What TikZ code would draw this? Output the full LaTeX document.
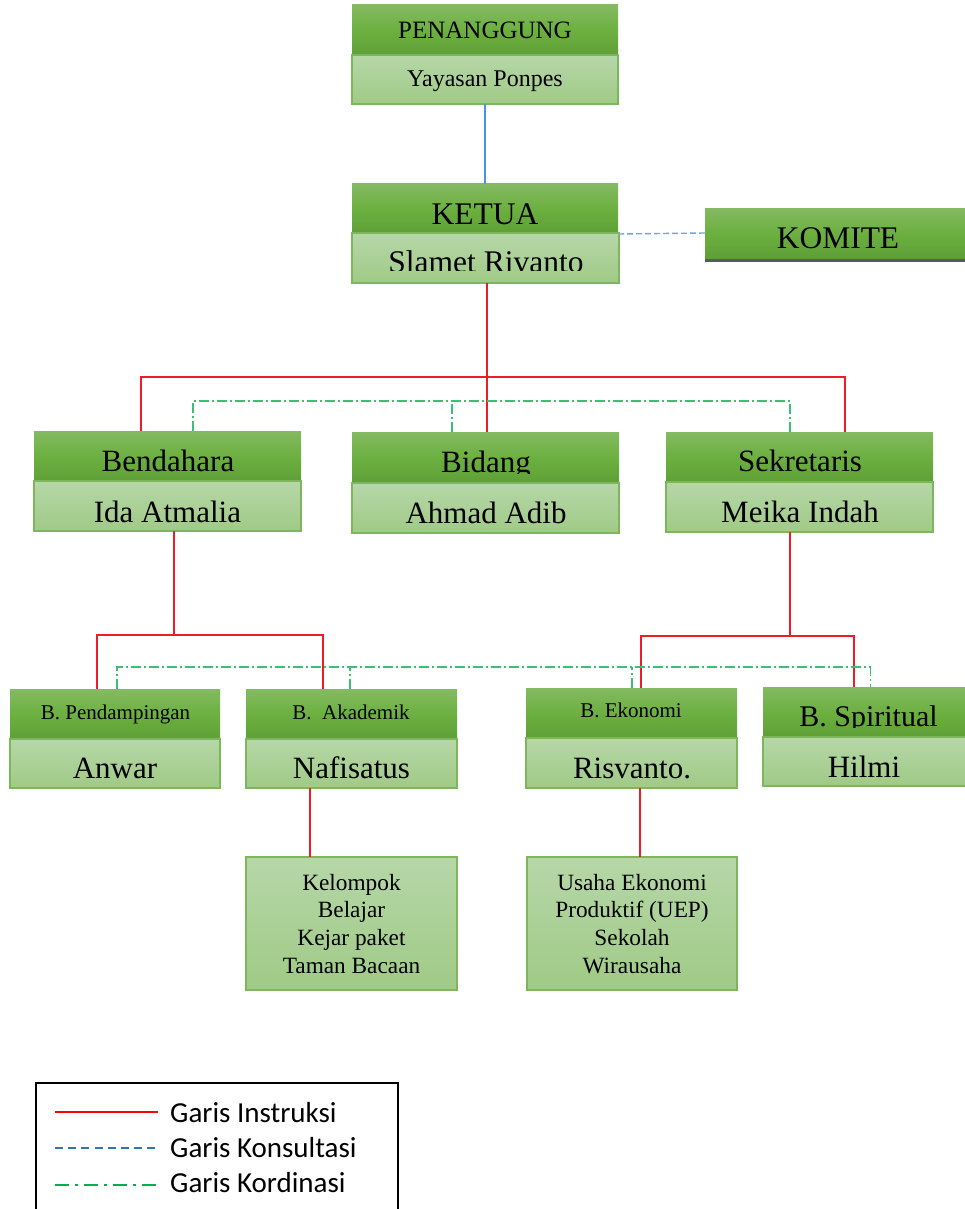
\documentclass[tikz,border=0pt]{standalone}
\usepackage{fontspec}
\setmainfont{Liberation Serif}
\newfontfamily\legfont{Carlito}
\definecolor{dkTop}{HTML}{84BA62}
\definecolor{dkMid}{HTML}{6CB040}
\definecolor{dkBot}{HTML}{5E9F36}
\definecolor{ltTop}{HTML}{B6D7A8}
\definecolor{ltBot}{HTML}{A0CA86}
\definecolor{ltBorder}{HTML}{7DB65B}
\definecolor{insRed}{HTML}{EE1C25}
\definecolor{konBlue}{HTML}{6FA6E0}
\definecolor{konLine}{HTML}{4A94DE}
\definecolor{korGreen}{HTML}{3DBE74}
\definecolor{legRed}{HTML}{FF0000}
\definecolor{legBlue}{HTML}{2E75B6}
\definecolor{legGreen}{HTML}{00B050}
\definecolor{shadowGray}{HTML}{5A5A5A}
\newcommand\mybox[6]{\node[#2, minimum width={#5-#3}, minimum height={#6-#4}] (#1) at ({(#3+#5)/2},{(#4+#6)/2}) {};}
\begin{document}
\begin{tikzpicture}[x=1pt,y=-1pt,
  dk/.style={rectangle, inner sep=0pt, outer sep=0pt, top color=dkTop, bottom color=dkBot, middle color=dkMid, draw=none},
  lt/.style={rectangle, inner sep=0pt, outer sep=0pt, top color=ltTop, bottom color=ltBot, draw=ltBorder, line width=1.2pt},
  txt/.style={anchor=base, inner sep=0pt, outer sep=0pt, font=\fontsize{31}{36}\selectfont},
  small/.style={anchor=base, inner sep=0pt, outer sep=0pt, font=\fontsize{21}{25}\selectfont},
  ins/.style={draw=insRed, line width=1.3pt},
  kon/.style={draw=konBlue, line width=1.4pt, dash pattern=on 6pt off 3pt},
  konsolid/.style={draw=konLine, line width=1.2pt},
  kor/.style={draw=korGreen, line width=1.2pt, dash pattern=on 10pt off 3pt on 2pt off 3pt},
  legtxt/.style={anchor=base west, inner sep=0pt, font=\legfont\fontsize{29}{34}\selectfont}]
\clip (0,0) rectangle (965,1209);
\fill[white] (0,0) rectangle (965,1209);

% ---------- boxes ----------
\mybox{penT}{dk}{352}{5}{618}{56}
\mybox{penB}{lt}{352}{55}{618}{104}
\mybox{ketT}{dk}{352}{184}{618}{234}
\mybox{ketB}{lt}{352}{233}{619}{283}
\fill[shadowGray] (705,256) rectangle (970,262);
\mybox{komite}{dk}{705}{208}{970}{258}
\mybox{bendT}{dk}{34}{431}{301}{482}
\mybox{bendB}{lt}{34}{481}{301}{531}
\mybox{bidT}{dk}{352}{432}{619}{484}
\mybox{bidB}{lt}{352}{483}{619}{533}
\mybox{sekT}{dk}{666}{432}{933}{483}
\mybox{sekB}{lt}{666}{482}{933}{532}
\mybox{pendT}{dk}{10}{689}{220}{740}
\mybox{pendB}{lt}{10}{739}{220}{788}
\mybox{akaT}{dk}{246}{689}{457}{740}
\mybox{akaB}{lt}{246}{739}{457}{788}
\mybox{ekoT}{dk}{526}{688}{737}{739}
\mybox{ekoB}{lt}{526}{738}{737}{788}
\mybox{spirT}{dk}{763}{687}{968}{738}
\mybox{spirB}{lt}{763}{737}{966}{786}
\mybox{kel}{lt}{246}{857}{457}{990}
\mybox{usa}{lt}{527}{857}{737}{990}

% ---------- texts ----------
\node[txt, font=\fontsize{25}{30}\selectfont] (tPen) at (485,39) {PENANGGUNG};
\node[txt, font=\fontsize{24}{29}\selectfont] (tYay) at (485,87) {Yayasan Ponpes};
\node[txt, font=\fontsize{31.5}{36}\selectfont] (tKet) at (485,224) {KETUA};
\begin{scope}
\clip (352,236) rectangle (619,270.5);
\node[txt, font=\fontsize{31.5}{36}\selectfont] (tSla) at (486,272) {Slamet Rivanto};
\end{scope}
\node[txt, font=\fontsize{31.5}{36}\selectfont] (tKom) at (838,248) {KOMITE};
\node[txt] (tBen) at (168,471) {Bendahara};
\node[txt] (tIda) at (167.5,522) {Ida Atmalia};
\begin{scope}
\clip (352,432) rectangle (619,473);
\node[txt] (tBid) at (486,472) {Bidang};
\end{scope}
\node[txt] (tAhm) at (486,523) {Ahmad Adib};
\node[txt] (tSek) at (800,471) {Sekretaris};
\node[txt] (tMei) at (800,522) {Meika Indah};
\node[small] (tPen2) at (115.5,719) {B. Pendampingan};
\node[txt] (tAnw) at (115,778) {Anwar};
\node[small] (tAka) at (351,719) {B.~~Akademik};
\node[txt] (tNaf) at (351.5,778) {Nafisatus};
\node[small] (tEko) at (631,717) {B. Ekonomi};
\node[txt] (tRis) at (632,778) {Risvanto.};
\begin{scope}
\clip (763,687) rectangle (966,727);
\node[txt, font=\fontsize{30}{35}\selectfont] (tSpi) at (868.5,726) {B. Spiritual};
\end{scope}
\node[txt] (tHil) at (864,777) {Hilmi};
\node[anchor=base, inner sep=0pt, font=\fontsize{23.3}{27.7}\selectfont] (tKel) at (351.5,890)
  {\begin{tabular}[t]{@{}c@{}}Kelompok\\Belajar\\Kejar paket\\Taman Bacaan\end{tabular}};
\node[anchor=base, inner sep=0pt, font=\fontsize{23.3}{27.7}\selectfont] (tUsa) at (632,890)
  {\begin{tabular}[t]{@{}c@{}}Usaha Ekonomi\\Produktif (UEP)\\Sekolah\\Wirausaha\end{tabular}};

% ---------- connectors ----------
\draw[konsolid] (penB.south) -- (ketT.north);
\draw[kon] (ketT.south east) -- (komite.west);

\coordinate (j1) at (487,377);
\draw[ins] ([xshift=1.5]ketB.south) -- ([xshift=1.5]bidT.north);
\draw[ins] ([xshift=-26.5]bendT.north) |- (j1) -| ([xshift=45.5]sekT.north);
\coordinate (g1) at (452,401);
\draw[kor] ([xshift=25.5]bendT.north) |- (g1) -| ([xshift=-9.5]sekT.north);
\draw[kor] ([xshift=-33.5]bidT.north) -- (g1);

\coordinate (j2) at (174,635);
\draw[ins] ([xshift=6.5]bendB.south) -- (j2);
\draw[ins] ([xshift=-18]pendT.north) |- (j2) -| ([xshift=-28.5]akaT.north);
\coordinate (j3) at (790,636);
\draw[ins] ([xshift=-9.5]sekB.south) -- (j3);
\draw[ins] ([xshift=9.5]ekoT.north) |- (j3) -| ([xshift=-11.5]spirT.north);

\coordinate (g2) at (350,667);
\coordinate (g3) at (632,667);
\draw[kor] ([xshift=2]pendT.north) |- (g2) -| ([xshift=5]spirT.north);
\draw[kor] ([xshift=-1.5]akaT.north) -- (g2);
\draw[kor] ([xshift=0.5]ekoT.north) -- (g3);

\draw[ins] ([xshift=-41.5]akaB.south) -- ([xshift=-41.5]kel.north);
\draw[ins] ([xshift=8.5]ekoB.south) -- ([xshift=8]usa.north);

% ---------- legend ----------
\draw[black, line width=2pt] (36,1083) rectangle (398,1220);
\node[legtxt] (lI) at (170,1122) {Garis Instruksi};
\node[legtxt] (lK) at (170,1157) {Garis Konsultasi};
\node[legtxt] (lKo) at (170,1192) {Garis Kordinasi};
\coordinate (a1) at (55,1112); \coordinate (b1) at (158,1112);
\coordinate (a2) at (55,1148); \coordinate (b2) at (158,1148);
\coordinate (a3) at (55,1185); \coordinate (b3) at (158,1185);
\draw[draw=legRed, line width=2pt] (a1) -- (b1);
\draw[draw=legBlue, line width=2pt, dash pattern=on 8pt off 5.2pt] (a2) -- (b2);
\draw[draw=legGreen, line width=2pt, dash pattern=on 14pt off 6pt on 3pt off 6pt] (a3) -- (b3);
\end{tikzpicture}
\end{document}
